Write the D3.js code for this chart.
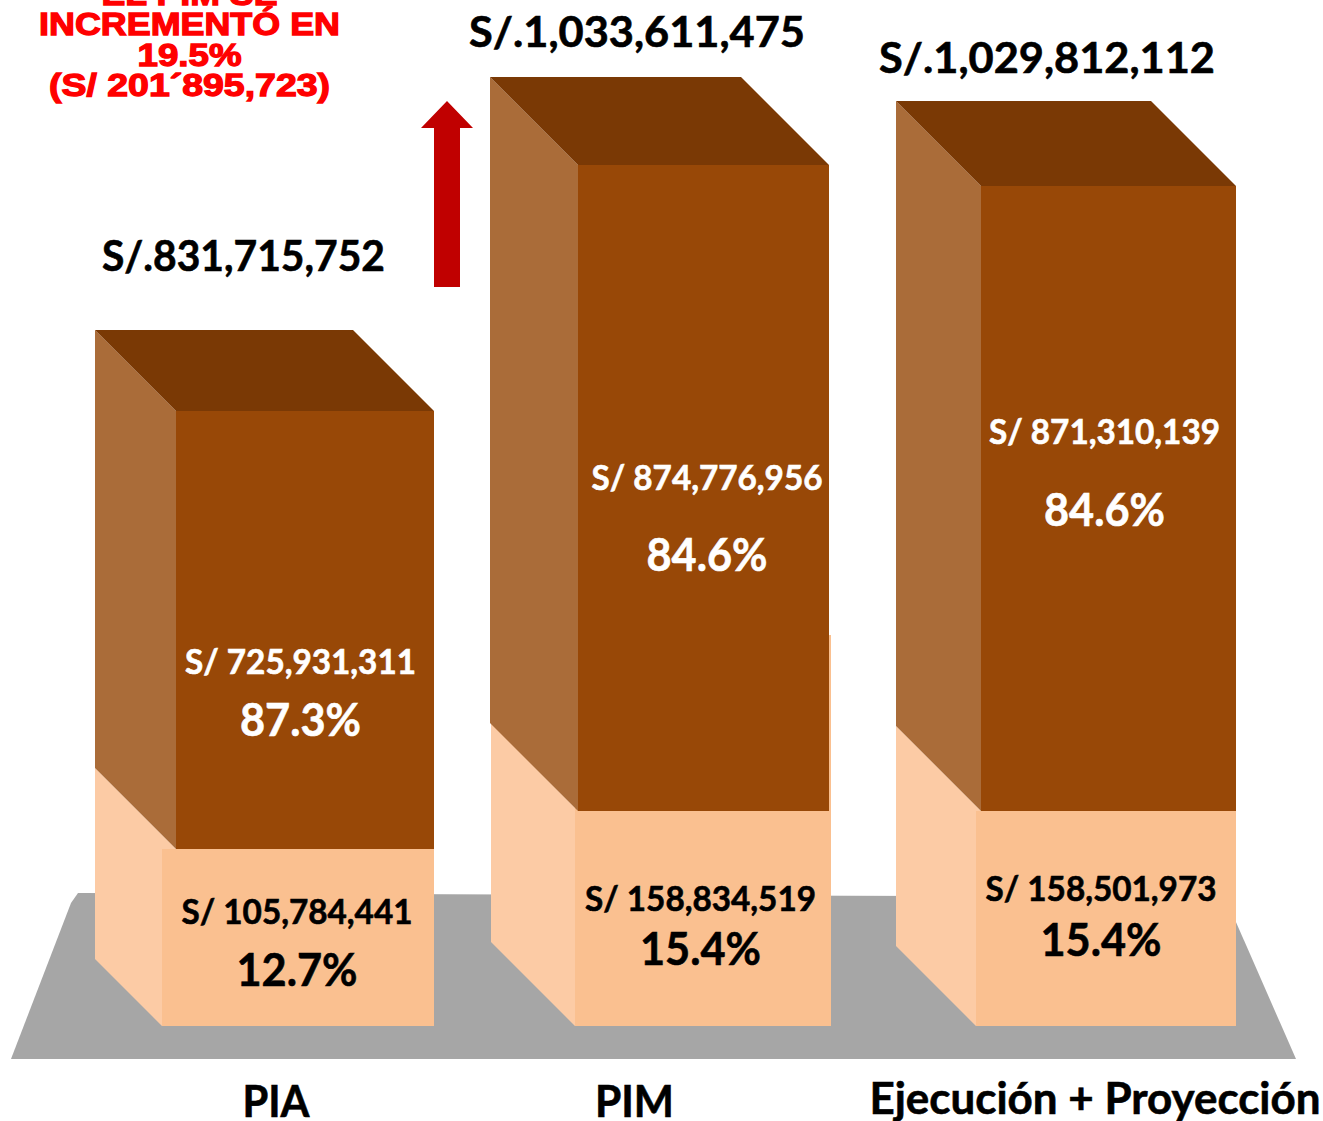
<!DOCTYPE html>
<html>
<head>
<meta charset="utf-8">
<script src="https://cdn.jsdelivr.net/npm/d3@7"></script>
<style>
  html, body { margin: 0; padding: 0; background: #fff; }
  svg { display: block; }
  text { font-family: Lato, "Open Sans", sans-serif; font-weight: 700; text-anchor: middle; stroke-width: 0.6px; }
  .note { font-family: "Liberation Sans", Arial, sans-serif; fill: #ff0000; stroke: #ff0000; stroke-width: 1.3px; }
</style>
</head>
<body>
<svg width="1323" height="1121"></svg>
<script>
// data
const categories = ["PIA", "PIM", "Ejecución + Proyección"];
const lowValues = [105784441, 158834519, 158501973];
const highValues = [725931311, 874776956, 871310139];
const lowPct = [12.7, 15.4, 15.4];
const highPct = [87.3, 84.6, 84.6];
const noteLines = ["EL PIM SE", "INCREMENTÓ EN", "19.5%", "(S/ 201´895,723)"];

const colors = {
  floor: "#a6a6a6", top: "#7a3905", upperSide: "#aa6c39", upperFront: "#984807",
  lowerSide: "#fccba5", lowerFront: "#fac090", arrow: "#c00000"
};

const svg = d3.select("svg");
const totals = categories.map((c, i) => lowValues[i] + highValues[i]);
const rows = categories.map((name, i) => ({
  name: name, low: lowValues[i], high: highValues[i], total: totals[i],
  lowPct: lowPct[i], highPct: highPct[i]
}));

// the drawing is not to one linear scale, so the y scale is piecewise through the stack edges
const yScale = d3.scaleLinear()
  .domain(d3.sort([0].concat(lowValues, totals)))
  .range([1026, 849, 811, 811, 411, 186, 165]);

// bar geometry per category
const ord = r => d3.scaleOrdinal().domain(categories).range(r);
const upperLeft = ord([176, 578, 981]);
const upperRight = ord([434, 829, 1236]);
const lowerLeft = ord([162, 575, 976]);
const lowerRight = ord([434, 831, 1236]);
const depth = ord([81, 88, 85]);
const lowerDepth = ord([67, 84, 80]);
const lowerTop = ord([849, 635, 811]); // PIM's lower face sticks out a little behind the upper one

// label positions per category
const totalX = ord([243.5, 637, 1047]), totalY = ord([271, 47, 73]);
const highX = ord([300.5, 707, 1104.5]), highValueY = ord([673.5, 490, 443.5]), highPctY = ord([736, 571, 526]);
const lowX = ord([297, 700.5, 1101]), lowValueY = ord([923.5, 910.5, 900.5]), lowPctY = ord([986, 965, 956]);
const catX = ord([276, 634.5, 1095]), catY = ord([1117, 1117, 1114]), catW = ord([67, 79, 451]);

const line = d3.line();
const poly = (sel, color, pts) => sel.append("path")
  .attr("fill", color)
  .attr("d", d => line(pts(d)) + "Z");

// floor
svg.append("path")
  .attr("fill", colors.floor)
  .attr("d", line([[11, 1059], [1296, 1059], [1225, 897], [78, 893], [71, 903]]) + "Z");

const bar = svg.selectAll(".bar").data(rows).join("g").attr("class", "bar");

// lower box
poly(bar, colors.lowerSide, d => {
  const back = lowerLeft(d.name) - lowerDepth(d.name);
  const yLow = yScale(d.low), base = yScale(0);
  return [[back, yLow - depth(d.name)], [upperLeft(d.name), yLow], [lowerLeft(d.name), yLow],
    [lowerLeft(d.name), base], [back, base - lowerDepth(d.name)]];
});
bar.append("rect")
  .attr("fill", colors.lowerFront)
  .attr("x", d => lowerLeft(d.name))
  .attr("y", d => lowerTop(d.name))
  .attr("width", d => lowerRight(d.name) - lowerLeft(d.name))
  .attr("height", d => yScale(0) - lowerTop(d.name));

// upper box
poly(bar, colors.upperSide, d => {
  const x = upperLeft(d.name), dp = depth(d.name), yT = yScale(d.total), yL = yScale(d.low);
  return [[x - dp, yT - dp], [x, yT], [x, yL], [x - dp, yL - dp]];
});
poly(bar, colors.top, d => {
  const x0 = upperLeft(d.name), x1 = upperRight(d.name), dp = depth(d.name), yT = yScale(d.total);
  return [[x0 - dp, yT - dp], [x1 - dp, yT - dp], [x1, yT], [x0, yT]];
});
bar.append("rect")
  .attr("fill", colors.upperFront)
  .attr("x", d => upperLeft(d.name))
  .attr("y", d => yScale(d.total))
  .attr("width", d => upperRight(d.name) - upperLeft(d.name))
  .attr("height", d => yScale(d.low) - yScale(d.total));

// labels
const money = d3.format(",");
const pct = d3.format(".1f");
const label = (cls, size, fill, x, y, width, txt) => bar.append("text")
  .attr("class", cls)
  .attr("x", d => x(d.name))
  .attr("y", d => y(d.name))
  .attr("font-size", size)
  .attr("fill", fill)
  .attr("stroke", fill)
  .attr("textLength", width)
  .attr("lengthAdjust", "spacingAndGlyphs")
  .text(txt);

label("total", 42, "#000", totalX, totalY, d => d.total > 1e9 ? 336 : 283, d => "S/." + money(d.total));
label("high-value", 34, "#fff", highX, highValueY, 231, d => "S/ " + money(d.high));
label("high-pct", 46, "#fff", highX, highPctY, 121, d => pct(d.highPct) + "%");
label("low-value", 34, "#000", lowX, lowValueY, 231, d => "S/ " + money(d.low));
label("low-pct", 46, "#000", lowX, lowPctY, 121, d => pct(d.lowPct) + "%");
label("cat", 43, "#000", catX, catY, d => catW(d.name), d => d.name);

// red arrow from PIA to PIM
svg.append("path")
  .attr("fill", colors.arrow)
  .attr("d", line([[421, 128], [447, 101], [473, 128], [460, 128], [460, 287], [434, 287], [434, 128]]) + "Z");

// note, first line runs off the top of the picture
const noteY = d3.scalePoint().domain(noteLines).range([5, 96]);
const noteW = d3.scaleOrdinal().domain(noteLines).range([176, 301, 104, 281]);
svg.selectAll(".note").data(noteLines).join("text")
  .attr("class", "note")
  .attr("x", 189.5)
  .attr("y", d => noteY(d))
  .attr("font-size", 32)
  .attr("textLength", d => noteW(d))
  .attr("lengthAdjust", "spacingAndGlyphs")
  .text(d => d);
</script>
</body>
</html>
